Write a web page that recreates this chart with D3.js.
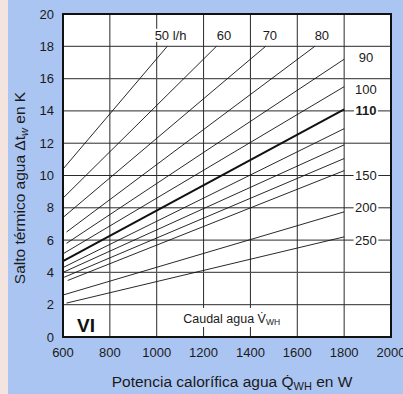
<!DOCTYPE html>
<html><head><meta charset="utf-8">
<script src="https://cdn.jsdelivr.net/npm/d3@7"></script>
<style>
html,body{margin:0;padding:0;background:#abc5f3;}
svg{display:block;font-family:"Liberation Sans",Arial,Helvetica,sans-serif;}
</style></head>
<body>
<svg id="c" width="403" height="394"></svg>
<script>
// ---- data ----
const flows      = [50, 60, 70, 80, 90, 100, 110, 120, 130, 140, 150, 200, 250];
const startPower = [600, 600, 600, 615, 615, 600, 600, 600, 600, 605, 620, 600, 615];
const startDelta = [10.4, 8.6, 7.4, 6.5, 5.8, 5.15, 4.7, 4.3, 4.0, 3.7, 3.5, 2.6, 2.1];
const endPower   = [1045, 1255, 1465, 1675, 1800, 1800, 1800, 1800, 1800, 1800, 1800, 1800, 1800];
const endDelta   = [18, 18, 18, 18, 17.2, 15.5, 14.1, 12.9, 11.9, 11.05, 10.3, 7.75, 6.2];
const boldFlow   = 110;
const topLabels  = ["50 l/h", "60", "70", "80"];
const topLabelP  = [1059, 1287, 1483, 1705];
const rightLabels = ["90", "100", "110", "150", "200", "250"];
const rightLabelT = [17.28, 15.3, 14, 10, 8, 6];
const xTicks = [600, 800, 1000, 1200, 1400, 1600, 1800, 2000];
const yTicks = [0, 2, 4, 6, 8, 10, 12, 14, 16, 18, 20];

const svg = d3.select("#c");
const W = 403, H = 394;
const L = 63, R = 391, T = 14, B = 337;
const x = d3.scaleLinear().domain([600, 2000]).range([L, R]);
const y = d3.scaleLinear().domain([0, 20]).range([B, T]);

// backgrounds
svg.append("rect").attr("width", W).attr("height", H).attr("fill", "#abc5f3");
svg.append("rect").attr("width", 8).attr("height", H).attr("fill", "#f4e4e0");
svg.append("rect").attr("x", L).attr("y", T).attr("width", R - L).attr("height", B - T).attr("fill", "#fff");

// grid
const g = svg.append("g");
g.selectAll(".vg").data(xTicks.slice(1, -1)).join("line")
  .attr("x1", d => x(d)).attr("x2", d => x(d)).attr("y1", T).attr("y2", B)
  .attr("stroke", "#2a2a2a").attr("stroke-width", 1);
g.selectAll(".hg").data(yTicks.slice(1, -1)).join("line")
  .attr("x1", L).attr("x2", R).attr("y1", d => y(d)).attr("y2", d => y(d))
  .attr("stroke", d => (d === 4 || d === 16) ? "#555" : "#2a2a2a")
  .attr("stroke-width", d => (d === 4 || d === 16) ? 1.4 : 1);

// flow lines
const lines = flows.map((f, i) => ({f, p0: startPower[i], t0: startDelta[i], p1: endPower[i], t1: endDelta[i]}));
svg.append("g").selectAll("line").data(lines).join("line")
  .attr("x1", d => x(d.p0)).attr("y1", d => y(d.t0))
  .attr("x2", d => x(d.p1)).attr("y2", d => y(d.t1))
  .attr("stroke", "#111")
  .attr("stroke-width", d => d.f === boldFlow ? 2 : 0.9);

// labels with white backgrounds
function boxedText(parent, tx, ty, str, opts) {
  const grp = parent.append("g");
  const r = grp.append("rect").attr("fill", "#fff");
  const t = grp.append("text").attr("x", tx).attr("y", ty)
    .attr("text-anchor", "middle").attr("dominant-baseline", "central")
    .attr("font-size", opts.size || 13).attr("font-weight", opts.bold ? "bold" : "normal")
    .attr("fill", "#1a1a1a").text(str);
  const bb = t.node().getBBox();
  const px = opts.padX == null ? 1.5 : opts.padX;
  r.attr("x", bb.x - px).attr("y", bb.y + 1).attr("width", bb.width + 2 * px).attr("height", bb.height - 2);
  return t;
}
const lab = svg.append("g");
topLabels.forEach((s, i) => boxedText(lab, x(topLabelP[i]), y(18.68), s, {size: 13}));
rightLabels.forEach((s, i) => boxedText(lab, x(1893), y(rightLabelT[i]), s, {size: 13, bold: s === "110"}));

// "Caudal agua V̇WH" box
{
  const grp = svg.append("g");
  const r = grp.append("rect").attr("fill", "#fff");
  const t = grp.append("text").attr("x", x(1320)).attr("y", 322.5)
    .attr("text-anchor", "middle").attr("font-size", 12.5).attr("fill", "#1a1a1a");
  t.append("tspan").text("Caudal agua V\u0307");
  t.append("tspan").attr("font-size", 8.5).attr("dy", 2.5).text("WH");
  const bb = t.node().getBBox();
  r.attr("x", bb.x - 8).attr("y", 308).attr("width", bb.width + 16).attr("height", 19);
}
// "VI"
svg.append("text").attr("x", 77).attr("y", 332).attr("font-size", 19).attr("font-weight", "bold")
  .attr("fill", "#111").text("VI");

// frame
svg.append("rect").attr("x", L).attr("y", T).attr("width", R - L).attr("height", B - T)
  .attr("fill", "none").attr("stroke", "#111").attr("stroke-width", 2);

// axes tick labels
svg.append("g").selectAll("text").data(yTicks).join("text")
  .attr("x", 54).attr("y", d => y(d)).attr("text-anchor", "end").attr("dominant-baseline", "central")
  .attr("font-size", 13).attr("fill", "#1a1a1a").text(d => d);
svg.append("g").selectAll("text").data(xTicks).join("text")
  .attr("x", d => x(d)).attr("y", 352).attr("text-anchor", "middle").attr("dominant-baseline", "central")
  .attr("font-size", 13).attr("fill", "#1a1a1a").text(d => d);

// axis titles
{
  const t = svg.append("text").attr("x", 232).attr("y", 387).attr("text-anchor", "middle")
    .attr("font-size", 15.5).attr("fill", "#1a1a1a");
  t.append("tspan").text("Potencia calorífica agua Q\u0307");
  t.append("tspan").attr("font-size", 11).attr("dy", 3).text("WH");
  t.append("tspan").attr("dy", -3).text(" en W");
}
{
  const t = svg.append("text").attr("transform", "translate(25,188) rotate(-90)").attr("text-anchor", "middle")
    .attr("font-size", 15.5).attr("fill", "#1a1a1a");
  t.append("tspan").text("Salto térmico agua \u0394t");
  t.append("tspan").attr("font-size", 11).attr("font-style", "italic").attr("dy", 3).text("w");
  t.append("tspan").attr("dy", -3).text(" en K");
}
</script>
</body></html>
